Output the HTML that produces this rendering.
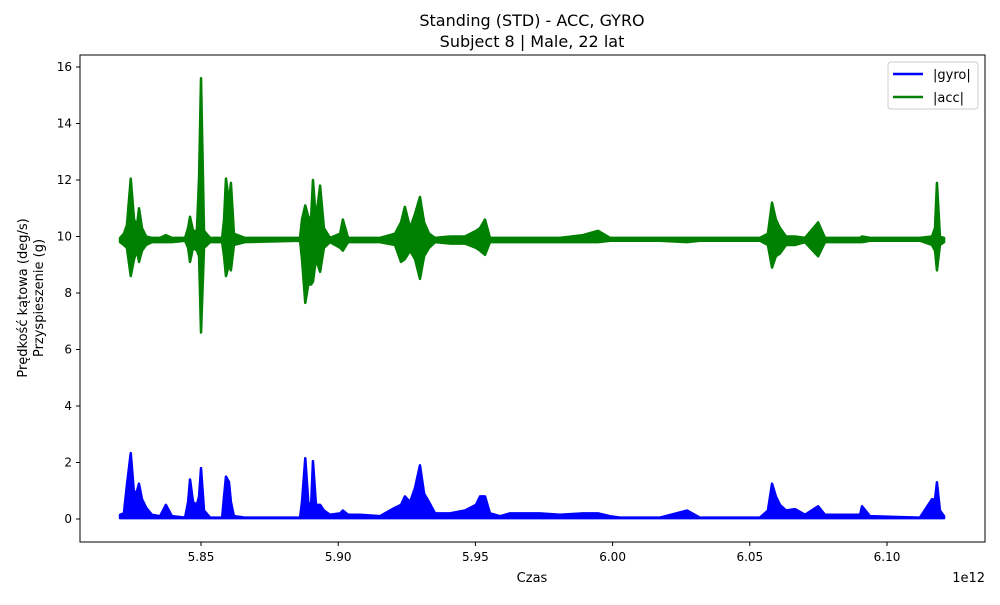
<!DOCTYPE html>
<html><head><meta charset="utf-8"><style>
body{margin:0;background:#fff;font-family:"Liberation Sans","DejaVu Sans",sans-serif;}
svg text{font-family:"DejaVu Sans","Liberation Sans",sans-serif;}
</style></head><body>
<svg id="chart" width="1000" height="600" viewBox="0 0 1000 600">
<rect width="1000" height="600" fill="#fff"/>
<text x="532" y="26" font-size="16" text-anchor="middle">Standing (STD) - ACC, GYRO</text>
<text x="532" y="47" font-size="16" text-anchor="middle">Subject 8 | Male, 22 lat</text>
<g id="plot"></g>
<rect x="80" y="55" width="905" height="487" fill="none" stroke="#000" stroke-width="1"/>
<text x="532" y="582" font-size="13" text-anchor="middle">Czas</text>
<text x="985" y="582" font-size="13" text-anchor="end">1e12</text>
<text transform="translate(27,298) rotate(-90)" font-size="13" text-anchor="middle">Prędkość kątowa (deg/s)</text>
<text transform="translate(43,298) rotate(-90)" font-size="13" text-anchor="middle">Przyspieszenie (g)</text>
<g>
<rect x="888" y="62" width="90" height="47" rx="3" fill="#fff" fill-opacity="0.8" stroke="#ccc"/>
<line x1="893" y1="74" x2="923" y2="74" stroke="#0000ff" stroke-width="2.5"/>
<text x="933" y="79" font-size="13">|gyro|</text>
<line x1="893" y1="97" x2="923" y2="97" stroke="#008000" stroke-width="2.5"/>
<text x="933" y="102" font-size="13">|acc|</text>
</g>
</svg>
<script>
const times=[5.8205,5.8219,5.8230,5.8244,5.8256,5.8267,5.8274,5.8285,5.8300,5.8321,5.8351,5.8372,5.8394,5.8442,5.8453,5.8460,5.8471,5.8485,5.8493,5.8500,5.8511,5.8533,5.8577,5.8584,5.8591,5.8602,5.8609,5.8620,5.8660,5.8861,5.8868,5.8880,5.8891,5.8901,5.8908,5.8919,5.8934,5.8948,5.8970,5.9007,5.9017,5.9036,5.9079,5.9152,5.9207,5.9229,5.9243,5.9262,5.9280,5.9298,5.9313,5.9331,5.9353,5.9407,5.9462,5.9502,5.9517,5.9535,5.9553,5.9590,5.9626,5.9735,5.9808,5.9892,5.9947,5.9991,6.0027,6.0173,6.0271,6.0318,6.0537,6.0566,6.0581,6.0595,6.0610,6.0632,6.0665,6.0701,6.0749,6.0774,6.0902,6.0909,6.0938,6.1120,6.1164,6.1175,6.1182,6.1193,6.1208];
const accHigh=[9.95,10.1,10.4,12.05,10.6,10.4,11.0,10.3,10.0,9.95,9.95,10.05,9.95,9.95,10.3,10.7,10.2,10.2,12.1,15.6,10.2,9.95,9.95,10.6,12.05,11.2,11.9,10.1,9.95,9.95,10.6,11.1,10.7,10.6,12.0,10.6,11.8,10.3,9.95,10.1,10.6,9.95,9.95,9.95,10.1,10.5,11.05,10.3,10.8,11.4,10.5,10.1,9.95,10.0,10.0,10.2,10.3,10.6,9.95,9.95,9.95,9.95,9.95,10.05,10.2,9.95,9.95,9.95,9.95,9.95,9.95,10.1,11.2,10.6,10.3,10.0,10.0,9.95,10.5,9.95,9.95,10.0,9.95,9.95,10.0,10.3,11.9,10.0,9.95];
const accLow=[9.8,9.7,9.6,8.6,9.2,9.5,9.1,9.5,9.7,9.8,9.8,9.8,9.8,9.85,9.6,9.1,9.6,9.5,9.3,6.6,9.6,9.8,9.8,9.3,8.6,9.0,8.8,9.7,9.8,9.85,9.2,7.65,8.3,8.3,8.4,9.2,8.75,9.6,9.8,9.6,9.5,9.8,9.8,9.8,9.7,9.1,9.2,9.5,9.2,8.5,9.3,9.6,9.8,9.75,9.75,9.6,9.5,9.35,9.8,9.8,9.8,9.8,9.8,9.8,9.8,9.85,9.85,9.85,9.8,9.85,9.85,9.7,8.9,9.3,9.4,9.7,9.7,9.8,9.3,9.8,9.8,9.8,9.85,9.85,9.7,9.5,8.8,9.7,9.8];
const gyroValues=[0.15,0.2,1.2,2.33,0.9,1.0,1.25,0.7,0.4,0.15,0.1,0.5,0.1,0.05,0.6,1.4,0.6,0.5,0.8,1.8,0.3,0.05,0.05,0.8,1.5,1.3,0.6,0.1,0.05,0.05,0.6,2.15,0.6,0.4,2.05,0.5,0.5,0.3,0.15,0.2,0.3,0.15,0.15,0.1,0.4,0.5,0.8,0.6,1.1,1.9,0.9,0.6,0.2,0.2,0.3,0.5,0.8,0.8,0.2,0.1,0.2,0.2,0.15,0.2,0.2,0.1,0.05,0.05,0.3,0.05,0.05,0.3,1.25,0.8,0.5,0.3,0.35,0.15,0.45,0.15,0.15,0.45,0.1,0.05,0.7,0.7,1.3,0.3,0.1];
const xTicks=[5.85,5.90,5.95,6.00,6.05,6.10];
const xTickLabels=["5.85","5.90","5.95","6.00","6.05","6.10"];
const yTicks=[0,2,4,6,8,10,12,14,16];
const yTickLabels=["0","2","4","6","8","10","12","14","16"];

const NS="http://www.w3.org/2000/svg";
const plot=document.getElementById('plot');
function xs(t){return 201+(t-5.85)*2744;}
function ys(v){return 519-v*28.25;}
function mk(tag,attrs){const e=document.createElementNS(NS,tag);for(const k in attrs)e.setAttribute(k,attrs[k]);plot.appendChild(e);return e;}

xTicks.forEach((t,i)=>{
  const l=mk('line',{x1:xs(t),x2:xs(t),y1:542,y2:546,stroke:'#000'});
  
  
  const tx=mk('text',{x:xs(t),y:561,'font-size':12,'text-anchor':'middle'});
  tx.textContent=xTickLabels[i];
  
  
});
yTicks.forEach((v,i)=>{
  const l=mk('line',{x1:76,x2:80,y1:ys(v),y2:ys(v),stroke:'#000'});
  
  
  const tx=mk('text',{x:72,y:ys(v)+4,'font-size':12,'text-anchor':'end'});
  tx.textContent=yTickLabels[i];
  
  
});

// gyro
let gp=times.map((t,i)=>xs(t)+','+ys(gyroValues[i])).join(' ');
let gArea=gp+' '+xs(times[times.length-1])+','+ys(0.03)+' '+xs(times[0])+','+ys(0.03);
const ga=mk('polygon',{points:gArea,fill:'#0000ff',stroke:'#0000ff','stroke-width':2.5,'stroke-linejoin':'round'});



// acc
let hi=times.map((t,i)=>xs(t)+','+ys(accHigh[i]));
let lo=times.map((t,i)=>xs(t)+','+ys(accLow[i])).reverse();
const aa=mk('polygon',{points:hi.concat(lo).join(' '),fill:'#008000',stroke:'#008000','stroke-width':2.5,'stroke-linejoin':'round'});


</script>
</body></html>
